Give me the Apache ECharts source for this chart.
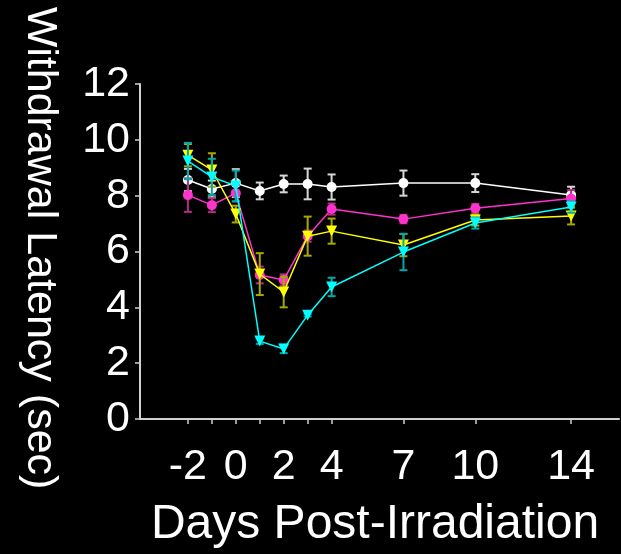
<!DOCTYPE html>
<html><head><meta charset="utf-8">
<script src="https://cdn.jsdelivr.net/npm/echarts@6/dist/echarts.min.js"></script>
<style>html,body{margin:0;padding:0;background:#000;}#c{width:621px;height:554px;}</style>
</head><body><div id="c"></div>
<script>
const days = [-2, -1, 0, 1, 2, 3, 4, 7, 10, 14];
const dayLabels = [-2, 0, 2, 4, 7, 10, 14];
const yTicks = [0, 2, 4, 6, 8, 10, 12];
const white = [8.56, 8.24, 8.45, 8.17, 8.42, 8.42, 8.31, 8.45, 8.45, 8.02];
const whiteErr = [0.4, 0.3, 0.5, 0.3, 0.3, 0.55, 0.45, 0.45, 0.32, 0.3];
const magenta = [8.02, 7.66, 8.09, 5.16, 4.98, 6.55, 7.52, 7.16, 7.55, 7.9];
const magentaErr = [0.6, 0.25, 0.3, 0.3, 0.2, 0.2, 0.2, 0.15, 0.15, 0.3];
const yellow = [9.45, 8.92, 7.34, 5.19, 4.55, 6.55, 6.73, 6.23, 7.13, 7.27];
const yellowErr = [0.4, 0.6, 0.3, 0.75, 0.55, 0.7, 0.45, 0.4, 0.2, 0.3];
const cyan = [9.24, 8.67, 8.35, 2.79, 2.51, 3.72, 4.73, 5.98, 7.02, 7.59];
const cyanErr = [0.65, 0.65, 0.55, 0.1, 0.15, 0.05, 0.33, 0.65, 0.2, 0.2];

const FONT = 'Liberation Sans, Arial, sans-serif';
const groups = [
  {vals: white, err: whiteErr, color: '#ffffff', errColor: '#d8d8d8', symbol: 'circle', rot: 0},
  {vals: magenta, err: magentaErr, color: '#ff33cc', errColor: '#b0307f', symbol: 'circle', rot: 0},
  {vals: yellow, err: yellowErr, color: '#ffff00', errColor: '#a8a800', symbol: 'triangle', rot: 180},
  {vals: cyan, err: cyanErr, color: '#00ffff', errColor: '#00a8a8', symbol: 'triangle', rot: 180}
];

const series = [];
groups.forEach((g, gi) => {
  const pts = days.map((d, i) => [d, g.vals[i], g.err[i]]);
  series.push({
    type: 'custom',
    data: pts,
    z: 2 + gi * 2,
    silent: true,
    renderItem: function (params, api) {
      const x = api.value(0), y = api.value(1), e = api.value(2);
      const top = api.coord([x, y + e]);
      const bot = api.coord([x, y - e]);
      const w = 4;
      const st = {stroke: g.errColor, lineWidth: 2};
      return {type: 'group', children: [
        {type: 'line', shape: {x1: top[0], y1: top[1], x2: bot[0], y2: bot[1]}, style: st},
        {type: 'line', shape: {x1: top[0] - w, y1: top[1], x2: top[0] + w, y2: top[1]}, style: st},
        {type: 'line', shape: {x1: bot[0] - w, y1: bot[1], x2: bot[0] + w, y2: bot[1]}, style: st}
      ]};
    }
  });
  series.push({
    type: 'line',
    data: pts.map(p => [p[0], p[1]]),
    z: 3 + gi * 2,
    symbol: g.symbol,
    symbolRotate: g.rot,
    symbolSize: g.symbol === 'circle' ? 10 : 11,
    showSymbol: true,
    lineStyle: {color: g.color, width: 1.5},
    itemStyle: {color: g.color, borderWidth: 0},
    animation: false
  });
});

const chart = echarts.init(document.getElementById('c'));
chart.setOption({
  backgroundColor: '#000',
  animation: false,
  grid: {left: 140, right: 2, top: 84, bottom: 135},
  xAxis: {
    type: 'value', min: -4, max: 16,
    axisLine: {onZero: false, lineStyle: {color: '#d0d0d0', width: 2}},
    axisTick: {show: true, length: 5, lineStyle: {color: '#d0d0d0', width: 1.5}, customValues: days},
    axisLabel: {customValues: dayLabels, color: '#fff', fontSize: 43, fontFamily: FONT, margin: 27},
    splitLine: {show: false}
  },
  yAxis: {
    type: 'value', min: 0, max: 12, interval: 2,
    axisLine: {show: true, onZero: false, lineStyle: {color: '#d0d0d0', width: 2}},
    axisTick: {show: true, length: 5, lineStyle: {color: '#d0d0d0', width: 1.5}},
    axisLabel: {color: '#fff', fontSize: 43, fontFamily: FONT, margin: 10,
      formatter: v => yTicks.includes(v) ? String(v) : ''},
    splitLine: {show: false}
  },
  graphic: [
    {type: 'text', x: 40, y: 248, rotation: -Math.PI / 2,
      style: {text: 'Withdrawal Latency (sec)', fill: '#fff', font: '43px ' + FONT, textAlign: 'center', textVerticalAlign: 'middle'}},
    {type: 'text', x: 375, y: 525,
      style: {text: 'Days Post-Irradiation', fill: '#fff', font: '48px ' + FONT, textAlign: 'center', textVerticalAlign: 'middle'}}
  ],
  series: series
});
</script></body></html>
